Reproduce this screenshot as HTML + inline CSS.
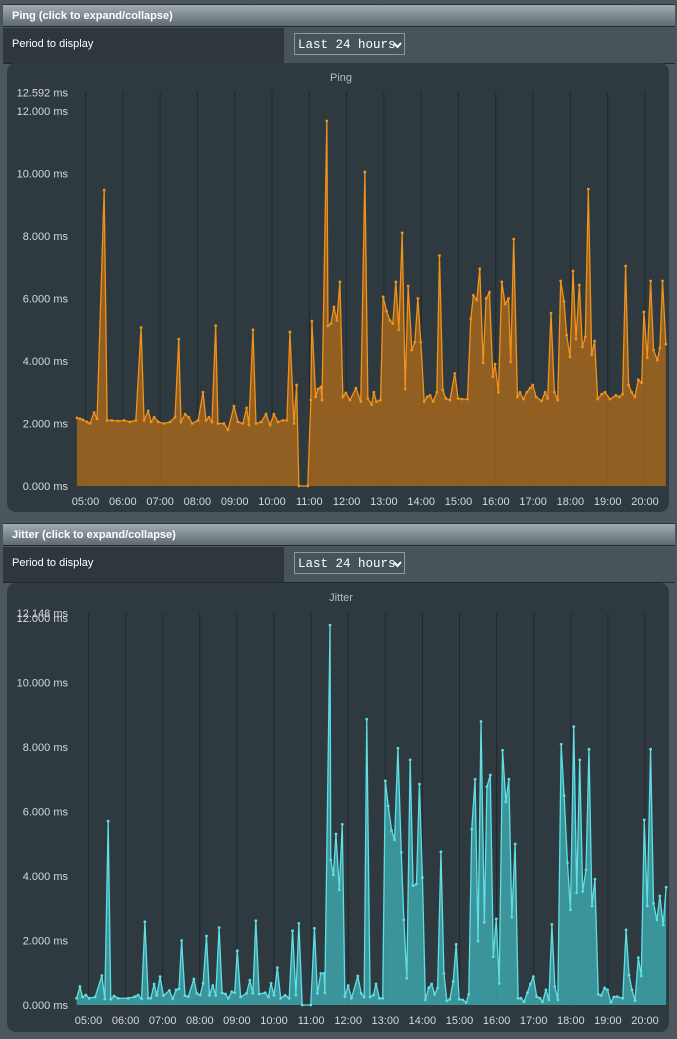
<!DOCTYPE html>
<html><head><meta charset="utf-8">
<style>
body{margin:0;width:677px;height:1039px;background:#4b575c;font-family:"Liberation Sans",sans-serif;position:relative;overflow:hidden}
.hdr{position:absolute;left:3px;width:672px;height:23px;background:linear-gradient(#a2acb0,#5d6a6f);border-top:1px solid #2a3236;border-bottom:1px solid #20282c;color:#fff;font-weight:bold;font-size:11px;line-height:23px;padding-left:9px;box-sizing:border-box}
.row{position:absolute;left:3px;width:672px;height:35px;background:#475459;border-bottom:1px solid #20282c}
.row .lab{position:absolute;left:0;top:0;width:281px;height:35px;background:#2d373c;color:#fff;font-size:11px;line-height:33px;padding-left:9px;box-sizing:border-box}
.sel{position:absolute;left:291px;top:5px;width:111px;height:22px;border:1px solid #8d999d;background:#46535a;color:#fff;font-family:"Liberation Mono",monospace;font-size:12.5px;line-height:22px;padding-left:3px;box-sizing:border-box}
.sel svg{position:absolute;left:98px;top:8px}
.box{position:absolute;left:7px;width:662px;height:449px;background:#2e3a40;border-radius:9px}
#chart{position:absolute;left:0;top:0}
</style></head><body>
<div class="hdr" style="top:4px">Ping (click to expand/collapse)</div>
<div class="row" style="top:28px"><div class="lab">Period to display</div><div class="sel">Last 24 hours<svg width="9" height="7"><path d="M1,1 L4.5,5 L8,1" stroke="#fff" stroke-width="2" fill="none"/></svg></div></div>
<div class="box" style="top:63px"></div>
<div class="hdr" style="top:523px">Jitter (click to expand/collapse)</div>
<div class="row" style="top:547px"><div class="lab">Period to display</div><div class="sel">Last 24 hours<svg width="9" height="7"><path d="M1,1 L4.5,5 L8,1" stroke="#fff" stroke-width="2" fill="none"/></svg></div></div>
<div class="box" style="top:583px"></div>
<svg id="chart" width="677" height="1039"></svg>
<script>
const hourTicks=[5,6,7,8,9,10,11,12,13,14,15,16,17,18,19,20];
const msTicks=[0,2,4,6,8,10,12];
const pingMax=12.592;
const jitterMax=12.148;
const pingTimes=[4.77,4.85,4.93,5.04,5.12,5.23,5.31,5.50,5.58,5.71,5.87,6.03,6.19,6.35,6.49,6.57,6.68,6.76,6.84,6.95,7.11,7.27,7.40,7.50,7.56,7.67,7.77,7.86,8.02,8.15,8.23,8.31,8.39,8.49,8.55,8.71,8.82,8.98,9.09,9.22,9.32,9.38,9.49,9.57,9.71,9.84,9.95,10.05,10.16,10.29,10.40,10.48,10.59,10.66,10.72,10.96,11.04,11.07,11.17,11.23,11.31,11.34,11.47,11.50,11.58,11.66,11.74,11.82,11.90,11.98,12.09,12.25,12.38,12.49,12.57,12.67,12.73,12.80,12.91,12.98,13.07,13.16,13.24,13.32,13.40,13.49,13.57,13.65,13.75,13.83,13.91,13.99,14.08,14.16,14.24,14.32,14.42,14.49,14.58,14.66,14.77,14.90,14.99,15.09,15.24,15.33,15.40,15.49,15.57,15.66,15.74,15.83,15.92,15.98,16.07,16.16,16.25,16.34,16.40,16.48,16.58,16.65,16.74,16.83,16.92,16.99,17.08,17.23,17.32,17.39,17.48,17.57,17.66,17.74,17.83,17.90,17.99,18.07,18.15,18.24,18.32,18.40,18.48,18.57,18.65,18.73,18.84,18.93,19.06,19.22,19.31,19.40,19.48,19.56,19.64,19.73,19.82,19.91,19.97,20.06,20.15,20.23,20.33,20.40,20.47,20.56];
const pingValues=[2.18,2.15,2.12,2.05,2.0,2.35,2.15,9.47,2.1,2.1,2.08,2.1,2.05,2.1,5.07,2.1,2.4,2.05,2.2,2.05,2.0,2.05,2.2,4.7,2.05,2.3,2.2,2.0,2.1,3.0,2.1,2.2,2.05,5.13,2.0,2.0,1.8,2.55,2.05,2.0,2.5,1.95,5.0,2.0,2.05,2.3,1.95,2.3,2.05,2.1,2.1,4.93,2.0,3.23,0,0,2.75,5.28,2.85,3.1,3.17,2.75,11.68,5.12,5.2,5.73,5.3,6.53,2.85,2.98,2.75,3.13,2.7,10.05,2.8,2.6,3.0,2.7,2.75,6.05,5.6,5.3,5.2,6.53,5.0,8.1,3.1,6.4,4.35,4.6,6.0,4.6,2.7,2.85,2.9,2.7,3.0,7.37,3.07,2.8,2.75,3.6,2.8,2.78,2.78,5.35,6.1,5.95,6.95,3.94,6.0,6.2,3.5,3.9,3.0,6.53,5.82,6.0,3.97,7.9,2.85,3.0,2.78,3.0,3.13,3.23,2.85,2.72,3.0,2.8,5.53,3.0,2.75,6.56,5.9,4.83,4.13,6.88,4.7,6.43,4.45,4.77,9.5,4.2,4.64,2.78,2.94,3.0,2.78,2.9,2.85,2.94,7.04,3.23,3.0,2.85,3.4,3.3,5.57,4.1,6.56,4.35,4.03,4.42,6.56,4.54];
const jitterTimes=[4.68,4.77,4.84,4.93,5.02,5.18,5.36,5.44,5.53,5.60,5.69,5.80,6.07,6.25,6.34,6.43,6.52,6.61,6.68,6.77,6.84,6.93,7.02,7.18,7.27,7.36,7.44,7.51,7.60,7.69,7.84,7.92,8.01,8.09,8.18,8.26,8.35,8.43,8.52,8.60,8.69,8.77,8.86,8.94,9.01,9.10,9.26,9.35,9.43,9.51,9.60,9.76,9.85,9.92,10.00,10.09,10.18,10.30,10.41,10.50,10.59,10.67,10.76,10.99,11.09,11.17,11.26,11.35,11.37,11.51,11.53,11.60,11.67,11.76,11.84,11.91,12.00,12.09,12.26,12.35,12.43,12.50,12.59,12.68,12.75,12.84,12.93,13.00,13.08,13.17,13.25,13.34,13.43,13.50,13.58,13.67,13.75,13.84,13.92,14.00,14.08,14.17,14.25,14.33,14.41,14.50,14.58,14.66,14.74,14.83,14.91,14.99,15.09,15.18,15.25,15.33,15.42,15.50,15.58,15.67,15.74,15.83,15.91,15.99,16.07,16.16,16.25,16.33,16.41,16.50,16.58,16.66,16.74,16.83,16.91,16.99,17.08,17.17,17.24,17.33,17.41,17.49,17.57,17.65,17.74,17.82,17.91,17.99,18.08,18.16,18.24,18.32,18.41,18.49,18.57,18.65,18.74,18.82,18.91,18.99,19.08,19.16,19.25,19.40,19.49,19.57,19.65,19.73,19.82,19.90,19.98,20.06,20.15,20.23,20.32,20.40,20.49,20.57];
const jitterValues=[0.21,0.57,0.25,0.31,0.21,0.25,0.91,0.19,5.7,0.18,0.28,0.21,0.21,0.26,0.31,0.19,2.58,0.21,0.21,0.65,0.3,0.88,0.29,0.45,0.19,0.47,0.5,2.0,0.29,0.26,0.8,0.36,0.31,0.67,2.14,0.3,0.6,0.3,2.4,0.38,0.34,0.21,0.41,0.38,1.68,0.25,0.36,0.77,0.36,2.61,0.34,0.38,0.25,0.67,0.3,1.16,0.21,0.3,0.21,2.3,0.31,2.53,0,0,2.38,0.36,0.98,0.98,0.38,11.78,4.5,4.03,5.3,3.57,5.6,0.26,0.6,0.21,0.9,0.36,0.25,8.86,0.25,0.31,0.65,0.21,0.21,6.95,6.17,5.41,5.12,7.96,4.73,2.64,0.83,7.6,3.7,3.75,6.85,3.95,0.16,0.53,0.65,0.33,0.53,4.75,0.98,0.13,0.18,0.73,1.88,0.18,0.16,0.08,0.33,5.45,7.0,1.98,8.79,2.56,6.77,7.13,1.5,2.67,0.67,7.9,6.3,7.0,2.72,4.99,0.21,0.21,0.1,0.38,0.65,0.88,0.26,0.21,0.1,0.47,0.16,2.5,0.57,0.16,8.08,6.49,4.41,2.95,8.63,3.48,7.6,3.52,4.19,7.93,3.07,3.9,0.33,0.3,0.53,0.47,0.08,0.25,0.26,0.21,2.33,0.93,0.47,0.13,1.47,0.9,5.74,3.07,7.93,3.15,2.64,3.38,2.48,3.65];

const NS='http://www.w3.org/2000/svg';
const svg=document.getElementById('chart');
function mk(tag,attrs,parent){const e=document.createElementNS(NS,tag);for(const k in attrs)e.setAttribute(k,attrs[k]);(parent||svg).appendChild(e);return e;}

function drawChart(cfg){
  const g=mk('g',{});
  
  
  const X=h=>cfg.x0+(h-5)*cfg.pxh;
  const Y=v=>cfg.y0-v*cfg.pxv;
  const top=Y(cfg.max);
  const t=mk('text',{x:341,y:cfg.titleY,'text-anchor':'middle',fill:'#b4bec2','font-size':'11','font-family':'Liberation Sans, sans-serif'},g);
  t.textContent=cfg.title;
  
  
  hourTicks.forEach(h=>{
    const l=mk('line',{x1:X(h),x2:X(h),y1:top,y2:cfg.y0,stroke:'#1f272b','stroke-width':1},g);
    
    
    const tx=mk('text',{x:X(h),y:cfg.y0+19,'text-anchor':'middle',fill:'#d4dadc','font-size':'11','font-family':'Liberation Sans, sans-serif'},g);
    tx.textContent=(h<10?'0':'')+h+':00';
    
    
  });
  const labs=msTicks.map(v=>[v,v.toFixed(3)+' ms']).concat([[cfg.max,cfg.max.toFixed(3)+' ms']]);
  labs.forEach(([v,s])=>{
    const tx=mk('text',{x:68,y:Y(v)+4,'text-anchor':'end',fill:'#d4dadc','font-size':'11','font-family':'Liberation Sans, sans-serif'},g);
    tx.textContent=s;
    
    
  });
  const pts=cfg.times.map((h,i)=>[X(h),Y(cfg.values[i])]);
  const area=mk('path',{d:'M'+pts[0][0]+','+cfg.y0+' L'+pts.map(p=>p.join(',')).join(' L')+' L'+pts[pts.length-1][0]+','+cfg.y0+' Z',fill:cfg.fill,'fill-opacity':cfg.fo},g);
  
  
  const line=mk('polyline',{points:pts.map(p=>p.join(',')).join(' '),fill:'none',stroke:cfg.stroke,'stroke-width':1.3},g);
  
  
  pts.forEach(p=>{
    const c=mk('circle',{cx:p[0],cy:p[1],r:1.4,fill:cfg.stroke},g);
    
    
  });
}
drawChart({name:'ping',title:'Ping',titleY:81,x0:85.5,pxh:37.3,y0:486,pxv:31.25,max:pingMax,times:pingTimes,values:pingValues,fill:'#b86d16',fo:0.72,stroke:'#f0921c'});
drawChart({name:'jitter',title:'Jitter',titleY:601,x0:88.5,pxh:37.1,y0:1005,pxv:32.25,max:jitterMax,times:jitterTimes,values:jitterValues,fill:'#3fb3b8',fo:0.75,stroke:'#5fdfe4'});
</script>
</body></html>
